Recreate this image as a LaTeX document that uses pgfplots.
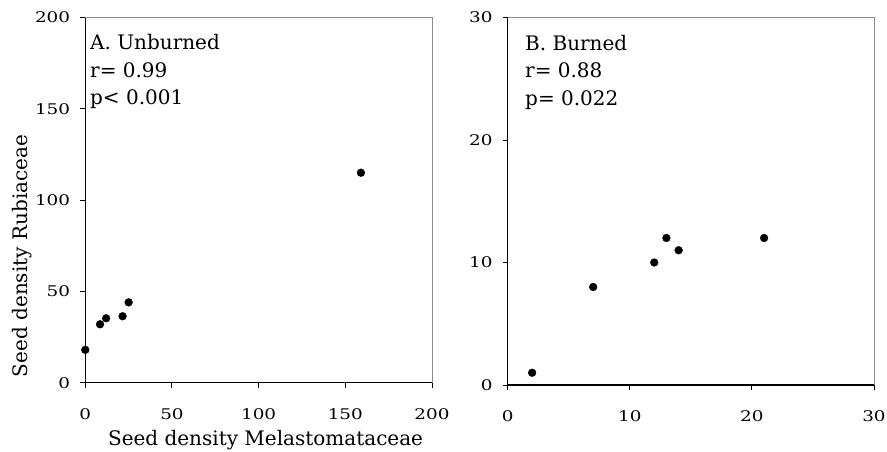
\documentclass[border=0pt]{standalone}
\usepackage{fontspec}
\setmainfont{DejaVu Serif}
\usepackage{graphicx}
\usepackage{pgfplots}
\pgfplotsset{compat=1.18}
\definecolor{ink}{rgb}{0,0,0}
\definecolor{frame}{rgb}{0.55,0.55,0.55}
\newcommand\tk[1]{\scalebox{1.25}[1]{#1}}
\pgfplotsset{
 panel/.style={
  scale only axis, anchor=south west, clip=false,
  axis line style={draw=none},
  tick pos=left,
  tick align=outside, major tick length=5pt, major tick style={draw=ink, line width=1pt},
  every tick label/.append style={font=\fontsize{14.7}{16}\selectfont, inner sep=0pt},
  yticklabel style={anchor=east, xshift=-10pt},
  xticklabel style={anchor=north, yshift=-20.5pt},
  label style={font=\fontsize{20}{22}\selectfont},
 },
 dots/.style={only marks, mark=*, mark size=3.9pt, draw=ink, fill=ink},
}
\begin{document}
\begin{tikzpicture}
\useasboundingbox (0,0) rectangle (887pt,451pt);
\begin{axis}[panel, at={(85.3pt,68.3pt)}, width=346.7pt, height=365.2pt,
  xmin=0, xmax=200, ymin=0, ymax=200,
  xtick={0,50,100,150,200}, ytick={0,50,100,150,200},
  xticklabels={\tk{0},\tk{50},\tk{100},\tk{150},\tk{200}},
  yticklabels={\tk{0},\tk{50},\tk{100},\tk{150},\tk{200}},
  xlabel={Seed density Melastomataceae},
  ylabel={Seed density Rubiaceae},
  xlabel style={at={(axis description cs:0.52,-0.1733)}, anchor=base},
  ylabel style={at={(axis description cs:-0.1834,0.347)}, anchor=center},
]
\draw[frame, line width=1pt] (rel axis cs:0,1) -- (rel axis cs:1,1) -- (rel axis cs:1,0);
\draw[ink, line width=1.3pt] (rel axis cs:0,1) -- (rel axis cs:0,0) -- (rel axis cs:1,0);
\addplot[dots] coordinates {(0,18) (8.5,32) (12,35.3) (21.5,36.4) (25,44) (159,115)};
\node[anchor=base west, inner sep=0pt, font=\fontsize{20}{22}\selectfont, xshift=4.7pt, yshift=-32pt] at (rel axis cs:0,1) {A. Unburned};
\node[anchor=base west, inner sep=0pt, font=\fontsize{20}{22}\selectfont, xshift=4.7pt, yshift=-59.5pt] at (rel axis cs:0,1) {r= 0.99};
\node[anchor=base west, inner sep=0pt, font=\fontsize{20}{22}\selectfont, xshift=4.7pt, yshift=-87pt] at (rel axis cs:0,1) {p< 0.001};
\end{axis}
\begin{axis}[panel, at={(507.7pt,66pt)}, width=366.3pt, height=367.5pt,
  xmin=0, xmax=30, ymin=0, ymax=30,
  xtick={0,10,20,30}, ytick={0,10,20,30},
  xticklabels={\tk{0},\tk{10},\tk{20},\tk{30}},
  yticklabels={\tk{0},\tk{10},\tk{20},\tk{30}},
]
\draw[frame, line width=1pt] (rel axis cs:0,1) -- (rel axis cs:1,1) -- (rel axis cs:1,0);
\draw[ink, line width=1.3pt] (rel axis cs:0,1) -- (rel axis cs:0,0) -- (rel axis cs:1,0);
\addplot[dots] coordinates {(2,1) (7,8) (12,10) (13,12) (14,11) (21,12)};
\node[anchor=base west, inner sep=0pt, font=\fontsize{20}{22}\selectfont, xshift=17.3pt, yshift=-32.5pt] at (rel axis cs:0,1) {B. Burned};
\node[anchor=base west, inner sep=0pt, font=\fontsize{20}{22}\selectfont, xshift=17.3pt, yshift=-60pt] at (rel axis cs:0,1) {r= 0.88};
\node[anchor=base west, inner sep=0pt, font=\fontsize{20}{22}\selectfont, xshift=17.3pt, yshift=-87.5pt] at (rel axis cs:0,1) {p= 0.022};
\end{axis}
\end{tikzpicture}
\end{document}
